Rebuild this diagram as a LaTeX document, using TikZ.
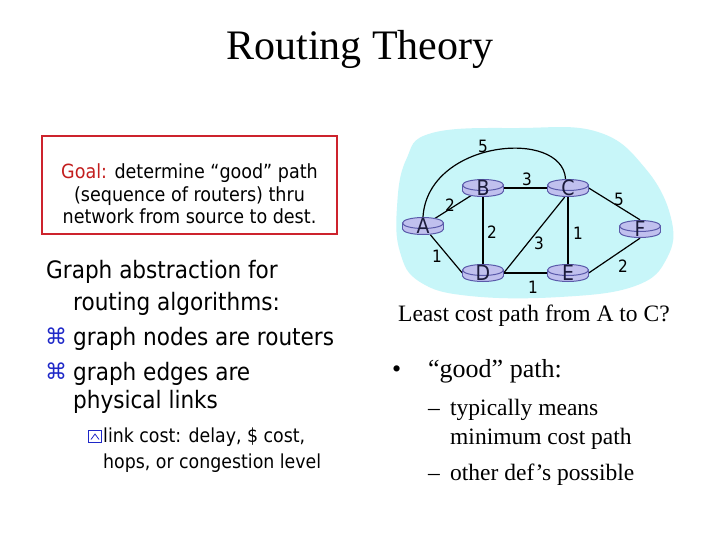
\documentclass[tikz,border=0pt]{standalone}
\usepackage{fontspec}
\setmainfont{Liberation Serif}
\newfontfamily\tahoma{DejaVu Sans Condensed}
\newfontfamily\dejavu{DejaVu Sans}
\usetikzlibrary{shapes.geometric}
\pgfdeclarelayer{paper}
\pgfdeclarelayer{blob}
\pgfdeclarelayer{edges}
\pgfsetlayers{paper,blob,edges,main}

\definecolor{boxred}{RGB}{205,35,45}
\definecolor{goalred}{RGB}{195,30,30}
\definecolor{blobcyan}{RGB}{200,246,249}
\definecolor{routerfill}{RGB}{192,192,238}
\definecolor{routerline}{RGB}{90,90,170}
\definecolor{routertext}{RGB}{28,28,60}
\definecolor{bulletblue}{RGB}{30,40,200}

\tikzset{
  rnode/.style={ellipse, minimum width=41pt, minimum height=18pt, inner sep=0pt},
  rlabel/.style={font=\tahoma\fontsize{21pt}{21pt}\selectfont, text=routertext, inner sep=0pt},
  edge/.style={line width=1.2pt, black},
  cost/.style={font=\tahoma\fontsize{17pt}{17pt}\selectfont, inner sep=0pt},
  bigtext/.style={font=\tahoma\fontsize{24pt}{24pt}\selectfont, anchor=base west, inner sep=0pt},
  smalltext/.style={font=\tahoma\fontsize{19.3pt}{19.3pt}\selectfont, anchor=base west, inner sep=0pt},
  cmdbullet/.style={font=\dejavu\fontsize{22pt}{22pt}\selectfont, text=bulletblue, anchor=base west, inner sep=0pt},
  serif24/.style={font=\fontsize{23.5pt}{23.5pt}\selectfont, anchor=base west, inner sep=0pt},
  serif26/.style={font=\fontsize{26pt}{26pt}\selectfont, anchor=base west, inner sep=0pt},
}

\newcommand\router[4]{%
  \filldraw[fill=routerfill, draw=routerline, line width=1pt] (#2,#3+3) ellipse [x radius=20.5pt, y radius=5.5pt];
  \fill[routerfill] (#2-20.5,#3-3) rectangle (#2+20.5,#3+3);
  \draw[routerline, line width=1pt] (#2-20.5,#3-3) -- (#2-20.5,#3+3) (#2+20.5,#3-3) -- (#2+20.5,#3+3);
  \filldraw[fill=routerfill, draw=routerline, line width=1pt] (#2,#3-3) ellipse [x radius=20.5pt, y radius=5.5pt];
  \node[rnode, label={[rlabel]center:#4}] (#1) at (#2,#3) {};
}

\begin{document}
\begin{tikzpicture}[x=1pt,y=-1pt]
\useasboundingbox (0,0) rectangle (720,540);
\begin{pgfonlayer}{paper}
\fill[white] (0,0) rectangle (720,540);
\end{pgfonlayer}

% title
\node[font=\fontsize{42pt}{42pt}\selectfont, anchor=base, inner sep=0pt] (title) at (360,59.5) {Routing Theory};

% goal box
\node[draw=boxred, line width=2pt, minimum width=295pt, minimum height=98pt, inner sep=0pt] (goalbox) at (189.5,185) {};
\node[font=\tahoma\fontsize{19.5pt}{22.5pt}\selectfont, align=center, inner sep=0pt] (goal) at (189.5,194)
  {{\color{goalred}Goal:} determine “good” path\\(sequence of routers) thru\\network from source to dest.};

% left text
\node[bigtext] (g1) at (46,278) {Graph abstraction for};
\node[bigtext] (g2) at (73,310) {routing algorithms:};
\node[cmdbullet] (b1) at (45,344) {⌘};
\node[bigtext] (g3) at (73,345) {graph nodes are routers};
\node[cmdbullet] (b2) at (45,379) {⌘};
\node[bigtext] (g4) at (73,380) {graph edges are};
\node[bigtext] (g5) at (73,408) {physical links};
\draw[bulletblue, line width=0.8pt] (88.5,430.5) rectangle (101.5,442.5);
\draw[bulletblue, line width=0.8pt] (91,439.5) -- (95,434) -- (99,439.5);
\node[smalltext] (s1) at (103,442) {link cost: delay, \$ cost,};
\node[smalltext] (s2) at (103,468) {hops, or congestion level};

% blob
\begin{pgfonlayer}{blob}
\fill[blobcyan] plot[smooth cycle, tension=0.7] coordinates {
  (432,133) (520,128) (598,132) (645,168) (671,218) (667,258) (635,286)
  (560,297) (470,296) (420,282) (400,252) (397,207) (406,160)};
\end{pgfonlayer}

% routers
\router{A}{423}{226}{A}
\router{B}{483}{188}{B}
\router{C}{568}{188}{C}
\router{F}{640}{229}{F}
\router{D}{483}{273}{D}
\router{E}{568}{273}{E}

% edges
\begin{pgfonlayer}{edges}
\draw[edge] (A) -- (B);
\draw[edge] (A) -- (D.west);
\draw[edge] (B) -- (D);
\draw[edge] (B) -- (C);
\draw[edge] (D.east) -- (C.250);
\draw[edge] (C) -- (E);
\draw[edge] (C.east) -- (F.north);
\draw[edge] (D.east) -- (E.west);
\draw[edge] (E.east) -- (F.south);
\draw[edge] (A.north) .. controls (428,140) and (562,128) .. (C.105);
\end{pgfonlayer}

% costs
\node[cost] (cAC) at (483,146) {5};
\node[cost] (cAB) at (450,205) {2};
\node[cost] (cBC) at (527,179) {3};
\node[cost] (cCF) at (619,199) {5};
\node[cost] (cBD) at (492,232) {2};
\node[cost] (cCD) at (539,243) {3};
\node[cost] (cCE) at (578,233) {1};
\node[cost] (cAD) at (437,256) {1};
\node[cost] (cEF) at (623,266) {2};
\node[cost] (cDE) at (533,287) {1};

% right text
\node[serif24] (least) at (398,321) {Least cost path from A to C?};
\node[serif26] (dot1) at (392,377) {•};
\node[serif26] (good) at (428,377) {“good” path:};
\node[serif24] (d1) at (428,415) {–};
\node[serif24] (t1) at (450,415) {typically means};
\node[serif24] (t2) at (450,444) {minimum cost path};
\node[serif24] (d2) at (428,480) {–};
\node[serif24] (t3) at (450,480) {other def’s possible};
\end{tikzpicture}
\end{document}
